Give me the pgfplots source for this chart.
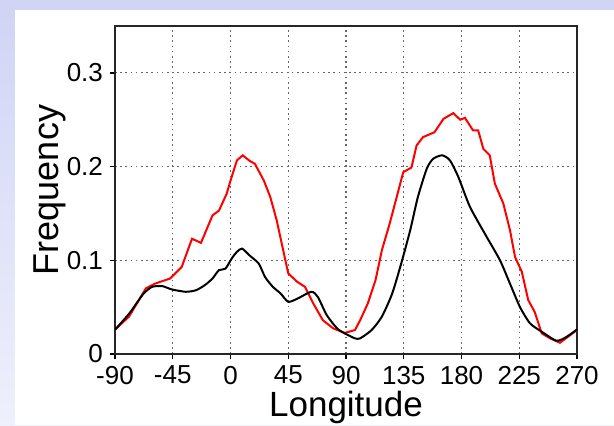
\documentclass[border=0pt]{standalone}
\usepackage{pgfplots}
\pgfplotsset{compat=1.18}
\usepackage{fontspec}
\setmainfont{Liberation Sans}
\definecolor{lavtop}{RGB}{208,212,245}
\definecolor{lavbot}{RGB}{238,240,252}
\begin{document}
\begin{tikzpicture}
\shade[top color=lavtop,bottom color=lavbot] (0pt,0pt) rectangle (307pt,212.5pt);
\fill[white] (7.5pt,0pt) rectangle (307pt,207.5pt);
\begin{axis}[
  at={(57.5pt,35.5pt)}, anchor=south west,
  scale only axis, width=231pt, height=164pt,
  xmin=-90, xmax=270, ymin=0, ymax=0.35,
  xtick={-90,-45,0,45,90,135,180,225,270},
  xticklabels={-90,-45,0,45,90,135,180,225,270},
  ytick={0,0.1,0.2,0.3},
  yticklabels={0,0.1,0.2,0.3},
  tick align=outside, tick pos=left,
  major tick length=2.5pt,
  tick style={black, line width=0.7pt},
  grid=major,
  major grid style={black!60, line width=0.6pt, dash pattern=on 0.8pt off 1.8pt},
  axis line style={black!85, line width=0.8pt},
  ticklabel style={font=\fontsize{13}{15}\selectfont},
  /pgf/number format/assume math mode=true,
  xlabel={Longitude}, ylabel={Frequency},
  every axis x label/.style={at={(axis description cs:0.5,-0.192)}, anchor=base, font=\fontsize{17.5}{20}\selectfont},
  every axis y label/.style={at={(axis description cs:-0.142,0.5)}, rotate=90, anchor=center, font=\fontsize{18}{20}\selectfont},
]
\addplot[red, line width=1pt] coordinates {
(-90,0.026) (-79,0.040) (-66,0.070) (-59,0.075) (-47,0.0806) (-38,0.093)
(-30,0.123) (-23,0.1186) (-14,0.148) (-9,0.153) (-3,0.171) (0,0.185)
(5,0.2066) (9.5,0.212) (15,0.206) (19,0.203) (26,0.185) (31,0.1675)
(36,0.1427) (41,0.111) (45,0.086) (52,0.077) (58,0.0717) (64.5,0.054)
(72,0.036) (80,0.0274) (89,0.0225) (97,0.0256) (101,0.036) (107,0.054)
(113,0.0788) (118,0.111) (124,0.139) (129.5,0.1675) (134.6,0.194) (141,0.199)
(145,0.2226) (150,0.2314) (159,0.2367) (166,0.251) (173.6,0.257) (179,0.250)
(182.7,0.252) (189,0.2386) (193,0.2386) (197,0.219) (202,0.212) (206,0.1818)
(212.6,0.1605) (217.8,0.132) (221.7,0.1036) (227,0.0877) (232,0.0575) (237,0.045)
(242.5,0.022) (249,0.0167) (256.7,0.012) (263,0.0184) (270,0.0256)
};
\addplot[black, line width=1pt, smooth, tension=0.4] coordinates {
(-90,0.026) (-79,0.043) (-68,0.064) (-61,0.0717) (-53,0.0724) (-46,0.069)
(-35,0.0664) (-27,0.068) (-20,0.0735) (-14,0.0806) (-9,0.0895) (-4,0.091)
(1,0.102) (5,0.109) (9,0.1125) (15,0.105) (22,0.0965) (27,0.082)
(33,0.0717) (39,0.0646) (45,0.0557) (52,0.059) (63,0.0664) (68,0.061)
(75,0.0415) (83,0.0274) (89,0.022) (97,0.0167) (101,0.0167) (110,0.0256)
(118,0.040) (126,0.0646) (133,0.0965) (140,0.132) (146,0.1675) (153,0.198)
(158,0.2084) (165,0.212) (171,0.2066) (177.5,0.189) (186.6,0.157) (199.6,0.125)
(210,0.100) (217.8,0.075) (225.6,0.050) (233.4,0.0327) (242.5,0.0238) (254,0.0142)
(262,0.0184) (270,0.0263)
};
\end{axis}
\pgfresetboundingbox
\useasboundingbox (0pt,0pt) rectangle (307pt,212.5pt);
\end{tikzpicture}
\end{document}
